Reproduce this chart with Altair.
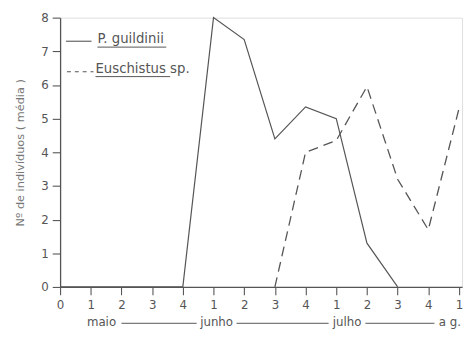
import altair as alt
import pandas as pd

# x positions are week indices 0..13
week_labels = ["0", "1", "2", "3", "4", "1", "2", "3", "4", "1", "2", "3", "4", "1"]
p_idx = [0, 1, 2, 3, 4, 5, 6, 7, 8, 9, 10, 11]
p_vals = [0, 0, 0, 0, 0, 8.0, 7.35, 4.4, 5.35, 5.0, 1.3, 0]
e_idx = [7, 8, 9, 10, 11, 12, 13]
e_vals = [0, 4.0, 4.35, 5.95, 3.2, 1.7, 5.3]

months = ["maio", "junho", "julho", "a g."]
month_pos = [1.35, 5.1, 9.35, 12.7]
month_line_start = [2.0, 5.75, 9.95]
month_line_end = [4.45, 8.75, 12.2]

INK = "#555555"
FONT = "DejaVu Sans"

df_p = pd.DataFrame({"x": p_idx, "y": p_vals})
df_e = pd.DataFrame({"x": e_idx, "y": e_vals})
df_m = pd.DataFrame({"x": month_pos, "label": months})
df_ml = pd.DataFrame({"x": month_line_start, "x2": month_line_end})

label_expr = "[" + ",".join("'%s'" % s for s in week_labels) + "][datum.value]"

xscale = alt.Scale(domain=[0, 13.1], nice=False, zero=False)
yscale = alt.Scale(domain=[0, 8], nice=False)

xaxis = alt.Axis(values=list(range(14)), labelExpr=label_expr, grid=False,
                 domainColor=INK, tickColor=INK, labelColor=INK, tickSize=8,
                 labelFontSize=12, labelFont=FONT, labelPadding=5, title=None,
                 domainWidth=1.3, tickWidth=1.1, labelOverlap=False, labelFlush=False)
yaxis = alt.Axis(values=list(range(9)), grid=False, domainColor=INK, tickColor=INK,
                 labelColor=INK, tickSize=8, labelFontSize=12, labelFont=FONT,
                 labelPadding=4, title="Nº de indivíduos ( média )",
                 titleFont=FONT, titleFontSize=11.5, titleFontWeight="normal",
                 titleColor="#777777", titlePadding=16, domainWidth=1.3, tickWidth=1.1,
                 labelOverlap=False, labelFlush=False)

X = lambda: alt.X("x:Q", scale=xscale, axis=xaxis)
Y = lambda: alt.Y("y:Q", scale=yscale, axis=yaxis)

solid = alt.Chart(df_p).mark_line(color=INK, strokeWidth=1.2).encode(x=X(), y=Y())
dashed = alt.Chart(df_e).mark_line(color=INK, strokeWidth=1.3, strokeDash=[10, 6]).encode(x=X(), y=Y())

month_text = alt.Chart(df_m).mark_text(font=FONT, fontSize=12, color=INK, baseline="middle").encode(
    x=X(),
    y=alt.value(310),
    text="label:N",
)
month_lines = alt.Chart(df_ml).mark_rule(color=INK, strokeWidth=1).encode(
    x=X(),
    x2="x2:Q",
    y=alt.value(311),
)

# hand-made legend
leg_solid = alt.Chart(pd.DataFrame({"a": [0]})).mark_rule(color=INK, strokeWidth=1.1).encode(
    x=alt.value(6), x2=alt.value(32), y=alt.value(24))
leg_dash = alt.Chart(pd.DataFrame({"a": [0]})).mark_rule(color=INK, strokeWidth=1.1, strokeDash=[4, 4]).encode(
    x=alt.value(7), x2=alt.value(34), y=alt.value(55))
leg_t1 = alt.Chart(pd.DataFrame({"t": ["P. guildinii"]})).mark_text(
    font=FONT, fontSize=13.5, color=INK, align="left", baseline="middle").encode(
    x=alt.value(38), y=alt.value(22), text="t:N")
leg_t2 = alt.Chart(pd.DataFrame({"t": ["Euschistus sp."]})).mark_text(
    font=FONT, fontSize=13.5, color=INK, align="left", baseline="middle").encode(
    x=alt.value(36), y=alt.value(52), text="t:N")
leg_u1 = alt.Chart(pd.DataFrame({"a": [0]})).mark_rule(color=INK, strokeWidth=1).encode(
    x=alt.value(38), x2=alt.value(108), y=alt.value(30))
leg_u2 = alt.Chart(pd.DataFrame({"a": [0]})).mark_rule(color=INK, strokeWidth=1).encode(
    x=alt.value(36), x2=alt.value(112), y=alt.value(60))

chart = alt.layer(
    solid, dashed, month_text, month_lines,
    leg_solid, leg_dash, leg_t1, leg_t2, leg_u1, leg_u2,
).properties(
    width=409, height=274,
    autosize=alt.AutoSizeParams(type="none"),
    padding={"left": 53, "top": 7, "right": 4, "bottom": 40},
).configure_view(stroke=None).configure(background="white")

chart.save("out.html", embed_options={"renderer": "svg", "actions": False})
